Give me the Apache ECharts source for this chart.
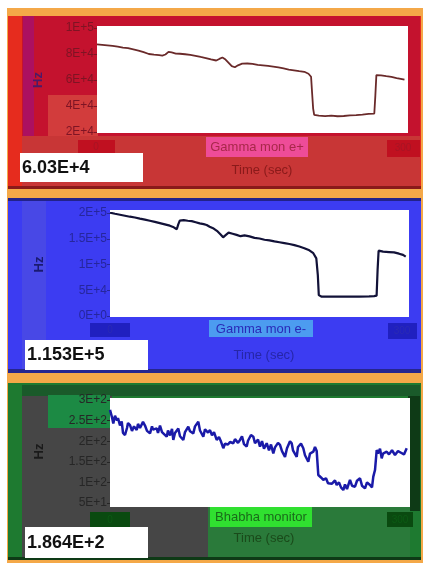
<!DOCTYPE html>
<html><head><meta charset="utf-8">
<script src="https://cdn.jsdelivr.net/npm/echarts@6/dist/echarts.min.js"></script>
<style>html,body{margin:0;padding:0;background:#fff}#c{width:427px;height:565px}</style>
</head><body><div id="c"></div>
<script>
// ---- Data ----
var gammaPlusTime = [0,5,10,15,20,25,30,35,40,45,50,55,60,63,66,69,72,76,80,85,90,95,100,105,110,115,118,121,124,127,130,133,136,140,145,150,155,160,165,170,175,180,185,190,195,200,204,206.5,207.5,208.5,209.5,214,220,226,232,238,244,250,256,262,267.5,268.5,269.5,274,279,284,289,293,296.6];
var gammaPlusValues = [87400,87000,86600,86200,85600,84900,84500,83600,82600,81400,80000,79500,79200,78800,79600,81600,81200,80300,80200,79800,79300,78600,77700,76900,75900,75000,76200,77300,75700,73200,70600,69800,71300,72600,72700,72400,71600,71200,70800,70300,69700,68900,68000,67400,66800,66300,64800,62500,50000,38000,33200,32600,32200,32600,32100,32300,32800,33000,33400,33900,34200,48000,63800,63600,62900,62400,61500,60900,60300];

var gammaMinusTime = [0,5,10,15,20,25,30,35,40,45,50,55,60,64,67,68.5,70,74,78,82,86,90,94,97,100,104,108,111,113.5,116,119,123,127,131,135,140,145,150,155,160,165,170,175,180,185,190,195,200,204,207,208.5,209.5,212,220,230,240,250,260,265,267.5,268.5,269.5,274,280,285,290,294,296.7];
var gammaMinusValues = [200600,198500,196600,194700,192800,191200,189000,187100,185000,182800,180400,178000,175400,172200,168400,178000,185100,186300,185000,184200,182000,179800,178400,176800,173400,169800,164200,158300,152800,156900,161800,159800,157600,155000,156400,154600,151700,150500,148000,146800,144900,143200,141500,139800,137600,134900,131700,127600,121900,112000,80000,40500,37800,37600,37600,37700,37800,38200,38600,39500,90000,126800,124900,124200,123600,121000,118700,115300];

var bhabhaTime = [0,2,3.3,5,7,8,10,11.7,13,15,17,18,20,22,24,26.7,28,30,33,35,37,40,42,43,46.7,48,50,52,56.7,58,60,62,63.3,65,68.3,70,73.3,75,78.3,80,83.3,85,88.3,90,93.3,95,98,100,102,104,106.7,109,111,113.3,115,118,120,123.3,125,128,130,132,134,136.7,138,141,143.3,145,148,150,152,154,156.7,159,161,163.3,165,168,170,172,175,177,180,181.7,183,186.7,188,191,193.3,195,198.3,200,203.3,205,206.7,208.3,211,213.3,216,218,220,222,225,226.7,229,231,233.3,235,237,240,242,245,247,250,252,255,257,260,262,263.3,265,266.7,268,270,271.7,273,276.7,279,282,285,288,291,294,296.7];
var bhabhaValues = [276,258,243,262,250,256,238,248,220,215,232,244,239,225,236,227,242,232,247,238,225,219,236,228,231,220,238,222,211,226,214,230,203,220,231,212,203,222,235,224,219,236,247,226,211,229,221,227,214,222,203,210,199,183,194,192,198,195,205,196,203,212,193,187,201,215,211,195,204,187,200,182,195,178,192,170.6,185,196,191,176,162,183,200,195,178,162,186,194,183,166,150,170,174.5,186,176,118,112,106,110,98,102,97,105,93.7,100,88,81.5,95,84,106,92,89.5,104,110,92,85.7,100,93.7,88,114,130,178.6,170,182,158.5,170,174.5,168,178,166.5,176,172,168,182.7];

var yTicks1 = ['2E+4','4E+4','6E+4','8E+4','1E+5'];
var yTicks2 = ['0E+0','5E+4','1E+5','1.5E+5','2E+5'];
var yTicks3 = ['5E+1','1E+2','1.5E+2','2E+2','2.5E+2','3E+2'];

var titles = ['Gamma mon e+','Gamma mon e-','Bhabha monitor'];
var readouts = ['6.03E+4','1.153E+5','1.864E+2'];
var xTitle = 'Time (sec)';
var yTitle = 'Hz';
var xMinLabel = '0';
var xMaxLabel = '300';

// ---- Chart ----
function zip(t, v){ return t.map(function(x,i){ return [x, v[i]]; }); }
var FONT = 'Liberation Sans, Arial, sans-serif';

function rect(x,y,w,h,fill){ return {type:'rect', shape:{x:x,y:y,width:w,height:h}, style:{fill:fill}, silent:true}; }
function txt(x,y,s,o){ o=o||{}; return {type:'text', x:x, y:y, style:{text:s, fill:o.fill||'#000', font:(o.weight||'normal')+' '+(o.size||11)+'px '+FONT, textAlign:o.align||'center', textVerticalAlign:'middle'}, silent:true}; }

var g = [];
g.push(rect(7,8,416,555,'#f4a848'));
// Panel 1 (red)
g.push(rect(8,16,413,173,'#e62c1e'));
g.push(rect(22,16,398,122,'#c4122e'));
g.push(rect(23,16,11,122,'#ac1060'));
g.push(rect(48,95,50,45,'#d23c3c'));
g.push(rect(22,136,398,50,'#c83636'));
g.push(rect(8,186,413,3,'#8a1a1a'));
g.push(rect(97,26,311,107,'#ffffff'));
g.push(rect(78,140,37,14,'#c01020'));
g.push(rect(387,140,33,17,'#c01020'));
g.push(txt(96,147,xMinLabel,{fill:'#a81424',size:10}));
g.push(txt(403,148,xMaxLabel,{fill:'#a81424',size:10}));
g.push(rect(206,137,102,20,'#ee4c98'));
g.push(txt(257,147,titles[0],{fill:'#a8284a',size:13}));
g.push(txt(262,170,xTitle,{fill:'#8a1a1a',size:13}));
g.push(rect(20,153,123,29,'#ffffff'));
g.push(txt(22,168,readouts[0],{fill:'#111',size:18,weight:'bold',align:'left'}));
// Panel 2 (blue)
g.push(rect(8,198,413,175,'#3c3cf2'));
g.push(rect(8,198,413,3,'#22228a'));
g.push(rect(22,201,24,168,'#4848e6'));
g.push(rect(8,369,413,4,'#26268e'));
g.push(rect(110,210,299,107,'#ffffff'));
g.push(rect(90,323,40,14,'#2020c0'));
g.push(rect(388,323,29,16,'#2020c0'));
g.push(txt(110,330,xMinLabel,{fill:'#2a2ab4',size:10}));
g.push(txt(402,331,xMaxLabel,{fill:'#2a2ab4',size:10}));
g.push(rect(209,320,104,17,'#4c9cf0'));
g.push(txt(261,329,titles[1],{fill:'#2a2ab8',size:13}));
g.push(txt(264,355,xTitle,{fill:'#2626a8',size:13}));
g.push(rect(25,340,123,30,'#ffffff'));
g.push(txt(27,355,readouts[1],{fill:'#111',size:18,weight:'bold',align:'left'}));
// Panel 3 (green/gray)
g.push(rect(8,383,413,177,'#1e7a30'));
g.push(rect(22,385,398,11,'#1a5a2a'));
g.push(rect(22,396,90,162,'#464646'));
g.push(rect(48,395,62,33,'#1c8a44'));
g.push(rect(408,396,12,115,'#0e3a16'));
g.push(rect(112,506,96,52,'#464646'));
g.push(rect(208,506,202,52,'#2a7a3a'));
g.push(rect(8,557,413,3,'#0e3a16'));
g.push(rect(110,398,300,109,'#ffffff'));
g.push(rect(90,512,40,15,'#0a4a10'));
g.push(rect(387,512,26,15,'#0a4a10'));
g.push(txt(110,520,xMinLabel,{fill:'#0c5a14',size:10}));
g.push(txt(400,520,xMaxLabel,{fill:'#0c5a14',size:10}));
g.push(rect(210,507,102,20,'#30e030'));
g.push(txt(261,517,titles[2],{fill:'#1a6a1a',size:13}));
g.push(txt(264,538,xTitle,{fill:'#1a4a1a',size:13}));
g.push(rect(25,527,123,31,'#ffffff'));
g.push(txt(27,543,readouts[2],{fill:'#111',size:18,weight:'bold',align:'left'}));

function yAxis(idx, min, max, interval, ticks, color, nameColor, gap){
  return {gridIndex:idx, type:'value', min:min, max:max, interval:interval,
    name:yTitle, nameLocation:'middle', nameRotate:90, nameGap:gap,
    nameTextStyle:{color:nameColor, fontFamily:FONT, fontSize:13, fontWeight:'bold'},
    axisLine:{show:false}, splitLine:{show:false},
    axisTick:{show:true, length:3, lineStyle:{color:color}},
    axisLabel:{color:color, fontFamily:FONT, fontSize:12, margin:3,
      formatter:function(v){ return ticks[Math.round((v-min)/interval)]; }}};
}
function xAxis(idx){
  return {gridIndex:idx, type:'value', min:0, max:300, show:false};
}

var option = {
  animation:false,
  graphic:{elements:g},
  grid:[
    {left:97, top:28, width:311, height:104},
    {left:110, top:213, width:299, height:103},
    {left:110, top:400, width:300, height:103}
  ],
  xAxis:[xAxis(0),xAxis(1),xAxis(2)],
  yAxis:[
    yAxis(0,20000,100000,20000,yTicks1,'#7e1424','#4a1a6a',52),
    yAxis(1,0,200000,50000,yTicks2,'#26269c','#1a1a70',64),
    yAxis(2,50,300,50,yTicks3,'#262626','#1a1a1a',64)
  ],
  series:[
    {type:'line', xAxisIndex:0, yAxisIndex:0, data:zip(gammaPlusTime,gammaPlusValues), showSymbol:false, z:5,
      lineStyle:{color:'#6a2a2a', width:1.8}},
    {type:'line', xAxisIndex:1, yAxisIndex:1, data:zip(gammaMinusTime,gammaMinusValues), showSymbol:false, z:5,
      lineStyle:{color:'#121238', width:2.2}},
    {type:'line', xAxisIndex:2, yAxisIndex:2, data:zip(bhabhaTime,bhabhaValues), showSymbol:false, z:5,
      lineStyle:{color:'#1a1aa8', width:2.5}}
  ]
};
var chart = echarts.init(document.getElementById('c'), null, {renderer:'canvas'});
chart.setOption(option);
</script></body></html>
